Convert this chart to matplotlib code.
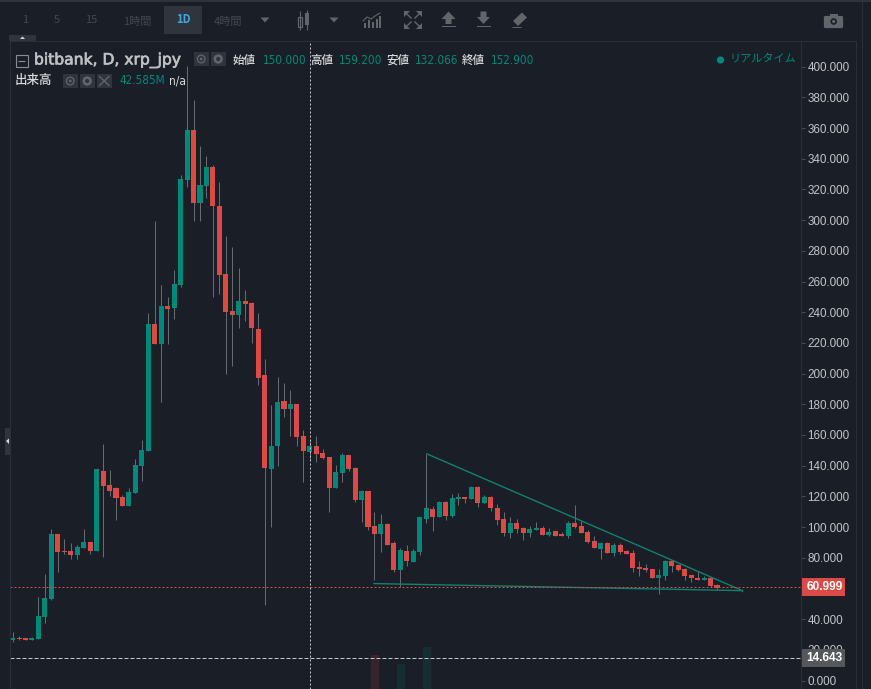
import matplotlib
matplotlib.use("Agg")
import matplotlib.pyplot as plt
import matplotlib.patheffects as pe
from matplotlib.patches import Rectangle, Polygon, Circle, FancyBboxPatch

# ---- data -------------------------------------------------------------
opens = [26.1,28.0,28.0,26.1,27.4,41.7,53.4,95.8,84.7,84.7,82.1,86.6,90.6,84.7,136.8,127.7,125.7,119.9,114.0,122.5,
         140.1,149.8,232.6,219.6,244.3,243.0,258.0,326.4,359.0,311.4,322.5,334.9,309.5,265.2,241.1,238.4,247.6,246.3,229.3,199.4,
         138.1,152.5,182.4,177.2,180.5,159.6,149.2,152.5,148.5,145.9,125.7,135.5,147.2,138.8,117.9,123.8,101.0,95.8,102.3,89.3,
         72.3,84.7,77.5,84.0,105.5,112.1,106.8,116.6,107.5,118.6,119.9,118.6,126.4,116.0,119.9,112.7,105.5,96.4,102.9,99.7,
         96.4,98.4,99.7,95.1,97.7,95.8,94.5,102.9,101.0,97.1,91.2,86.0,89.3,83.4,88.0,84.7,83.4,74.3,73.6,73.0,
         67.1,68.4,78.2,75.6,73.0,69.1,67.1,65.8,67.1,62.5]
highs = [31.9,29.3,28.0,28.7,54.7,69.7,99.0,95.8,92.5,89.9,88.6,99.0,90.6,138.8,154.4,137.5,126.4,121.2,125.7,144.6,
         157.0,239.8,299.7,258.0,250.2,267.8,329.7,400.7,378.5,348.6,342.0,336.2,325.1,289.9,282.8,269.1,254.7,246.9,239.8,209.8,
         179.8,198.1,194.1,189.6,180.5,163.5,157.0,159.6,151.1,145.9,140.7,148.5,147.2,139.4,124.4,123.8,109.5,108.8,102.9,91.2,
         86.6,88.6,86.0,106.8,147.9,114.0,117.3,117.3,121.8,122.5,119.9,127.0,127.0,121.2,120.5,115.3,109.5,106.8,105.5,100.3,
         101.0,103.6,101.0,99.7,97.7,97.1,104.2,114.7,104.2,98.4,94.5,90.6,90.6,89.3,89.3,85.3,85.3,78.2,76.2,73.0,
         73.0,78.8,78.8,76.2,73.6,69.1,71.7,68.4,67.1,63.2]
lows = [25.4,26.7,26.1,26.1,27.4,37.8,52.8,71.0,82.7,79.5,79.5,86.6,82.7,84.7,80.8,120.5,104.9,114.0,114.0,122.5,
        130.3,149.8,219.6,181.8,219.6,235.8,256.7,321.8,299.7,299.7,314.7,250.2,252.1,200.0,205.2,230.0,234.5,220.2,192.8,49.5,
        100.3,140.1,172.0,159.6,153.1,129.6,144.0,142.7,144.6,109.5,125.7,129.6,136.8,116.6,103.6,98.4,65.8,84.0,88.0,71.0,
        61.2,74.9,77.5,82.1,102.9,97.7,106.8,104.9,106.8,114.7,116.0,118.6,113.4,116.0,110.8,101.6,94.5,93.2,96.4,91.9,
        93.8,98.4,95.1,94.5,94.5,94.5,93.2,99.7,96.4,89.9,86.6,79.5,83.4,81.4,82.7,82.7,71.0,67.8,71.0,66.5,
        56.7,65.8,71.0,71.7,65.8,64.5,65.8,65.8,61.2,59.3]
closes = [28.0,27.4,26.1,28.0,42.3,54.1,95.8,84.0,84.0,82.1,87.3,90.6,84.7,138.1,127.0,123.8,119.2,114.0,123.1,140.7,
          150.5,232.6,219.6,244.3,242.4,258.6,327.1,359.0,311.4,323.1,334.9,309.5,264.5,240.4,238.4,247.6,245.6,230.0,197.4,138.8,
          153.1,181.8,177.2,180.5,159.0,149.8,152.5,147.9,145.3,125.7,136.2,147.2,138.1,117.9,123.8,100.3,95.8,102.3,88.6,72.3,
          85.3,78.2,84.7,106.8,112.7,106.8,116.6,107.5,119.2,119.9,118.6,126.4,116.0,119.9,112.7,104.9,96.4,102.9,99.0,96.4,
          99.0,99.7,95.1,97.1,94.5,94.5,102.9,100.3,96.4,90.6,86.6,89.3,83.4,88.0,84.0,82.7,73.6,73.0,72.3,67.1,
          69.1,78.2,74.9,72.3,68.4,66.5,65.8,67.1,61.9,60.0]
volume_days = [56, 60, 64]
volume_up = [False, True, True]
volume_vals = [34.0, 25.0, 42.0]
trend_upper_x = [64, 112.8]
trend_upper_y = [147.9, 58.8]
trend_lower_x = [55.8, 112.8]
trend_lower_y = [63.2, 58.6]
crosshair_day = 46
last_price = 60.999
cross_price = 14.643
yticks = list(range(0, 401, 20))

# ---- style ------------------------------------------------------------
BG = "#1a1e27"
FRAME = "#2b2f38"
GREEN = "#00897b"
RED = "#dc4a45"
WICK = "#686b70"
TXT = "#c2c4c7"
HEAD = "#d8d9da"
ICON = "#62656a"
DIM = "#45484f"
BOX = "#30343c"
CJK = ["Noto Sans CJK JP", "DejaVu Sans"]
W, H = 871, 689
PX = 72 / 100
XLIM = (-0.40, 122.0)

fig = plt.figure(figsize=(8.71, 6.89), dpi=100, facecolor=BG)
rect = [10 / W, 0, 791 / W, 648 / H]
ax = fig.add_axes(rect, zorder=2)
ax.patch.set_visible(False)
vol = fig.add_axes(rect, zorder=1, facecolor=BG)
vol.set_xlim(*XLIM)
vol.set_ylim(0, 648)
vol.axis("off")
for d, up, v in zip(volume_days, volume_up, volume_vals):
    c = GREEN if up else RED
    vol.bar(d, v, width=1.05, color=c, alpha=0.14, edgecolor=c, linewidth=0.6)

ax.set_xlim(*XLIM)
ax.set_ylim(-5.5, 416.7)
ax.set_xticks([])
ax.yaxis.tick_right()
ax.set_yticks(yticks)
# the 60.000 label sits under the price box for the last price
ax.set_yticklabels(["" if t == 60 else f"{t:.3f}" for t in yticks],
                   family="Liberation Sans", fontsize=8.4, color=TXT)
ax.tick_params(axis="y", length=3, width=PX, color="#4a4d55", pad=1.8)
for s in ax.spines.values():
    s.set_visible(False)

days = list(range(len(opens)))
ax.vlines(days, lows, highs, color=WICK, linewidth=PX, zorder=2)
colors = [GREEN if c >= o else RED for o, c in zip(opens, closes)]
ax.bar(days, [abs(c - o) for o, c in zip(opens, closes)],
       bottom=[min(o, c) for o, c in zip(opens, closes)],
       width=0.78, color=colors, linewidth=0, zorder=3)

ax.plot(trend_upper_x, trend_upper_y, color="#14806f", lw=1.0, zorder=4, solid_capstyle="butt")
ax.plot(trend_lower_x, trend_lower_y, color="#14806f", lw=1.0, zorder=4, solid_capstyle="butt")
ax.plot([112.8, 112.8], [trend_lower_y[1], trend_upper_y[1]], color="#14806f", lw=1.0, zorder=4)

ax.axhline(last_price, color=RED, lw=PX, dashes=(2, 2), zorder=5)
ax.axhline(cross_price, color="#c4c6c9", lw=PX, dashes=(4, 2), zorder=5)
ax.axvline(crosshair_day, color="#c4c6c9", lw=PX, dashes=(2, 2), zorder=5)

ytr = ax.get_yaxis_transform()
for price, col in [(last_price, RED), (cross_price, "#55575b")]:
    ax.add_patch(Rectangle((1.0, price - 5.6), 44 / 791, 11.2, transform=ytr, color=col,
                           clip_on=False, zorder=6, linewidth=0))
    ax.text(1.0 + 5.5 / 791, price - 0.2, f"{price:.3f}", transform=ytr, color="white",
            family="Liberation Sans", fontsize=8.6, fontweight="bold", va="center", ha="left",
            clip_on=False, zorder=7)

# ---- chrome in pixel coordinates ---------------------------------------
ui = fig.add_axes([0, 0, 1, 1], zorder=3)
ui.patch.set_visible(False)
ui.set_xlim(0, W)
ui.set_ylim(H, 0)
ui.axis("off")

def line(xs, ys, c=FRAME, lw=PX):
    ui.plot(xs, ys, color=c, lw=lw, solid_capstyle="butt")

line([10, 856], [40.5, 40.5])
line([10, 10], [40.5, 689])
line([800.5, 800.5], [40.5, 689])
line([855.5, 855.5], [40.5, 689])
line([861.5, 861.5], [0, 689])
line([0, W], [0.5, 0.5], "#34373e", 1.2)

ui.add_patch(Rectangle((9, 35), 27, 5.5, color=BOX, lw=0))
ui.add_patch(Polygon([[20, 39], [25, 39], [22.5, 36.5]], color="#d8d8d8", lw=0))
ui.add_patch(Rectangle((5, 428), 4.5, 27, color=BOX, lw=0))
ui.add_patch(Polygon([[9, 438.5], [9, 444], [6, 441]], color="#d8d8d8", lw=0))

def txt(x, y, s, c=TXT, size=8.0, ha="left", family=None, **kw):
    return ui.text(x, y, s, color=c, fontsize=size, ha=ha, va="center", family=family or CJK, **kw)

# time frame buttons
ui.add_patch(Rectangle((164, 6), 38, 28, color=BOX, lw=0))
for x, s in [(25, "1"), (57, "5"), (91, "15"), (137, "1時間"), (228, "4時間")]:
    txt(x, 20 if len(s) < 3 else 22, s, DIM, 8.0, ha="center")
txt(183, 19.5, "1D", "#3fa9dc", 8.0, ha="center", fontweight="bold")

def tri(cx, cy, c=ICON):
    ui.add_patch(Polygon([[cx - 4.5, cy - 2.5], [cx + 4.5, cy - 2.5], [cx, cy + 2.5]], color=c, lw=0))

tri(265, 20)
tri(334, 20)
# candle icon
ui.add_patch(Rectangle((297.5, 17), 4, 10, fill=False, ec=ICON, lw=0.9))
line([299.5, 299.5], [11, 30], ICON, 0.8)
ui.add_patch(Rectangle((304.5, 13), 4.5, 12, color=ICON, lw=0))
line([306.7, 306.7], [10, 30], ICON, 0.8)
# indicator icon
for x, h in zip([363.5, 367.5, 371.5, 375.5, 379], [5, 8, 6, 9, 12]):
    ui.add_patch(Rectangle((x, 28 - h), 2.4, h, color=ICON, lw=0))
ui.plot([363, 367, 371, 375, 380], [21, 17, 19, 16, 13], color=ICON, lw=0.8)
# fullscreen icon
for x0, y0, dx, dy in [(404, 11, 1, 1), (422, 11, -1, 1), (404, 29, 1, -1), (422, 29, -1, -1)]:
    ui.add_patch(Polygon([[x0, y0], [x0 + 6 * dx, y0], [x0, y0 + 6 * dy]], color=ICON, lw=0))
    ui.plot([x0 + 2 * dx, x0 + 7 * dx], [y0 + 2 * dy, y0 + 7 * dy], color=ICON, lw=1.0)
# upload
ui.add_patch(Polygon([[441.5, 19], [448.5, 11.5], [455.5, 19], [451.5, 19], [451.5, 24], [445.5, 24], [445.5, 19]], color=ICON, lw=0))
ui.add_patch(Rectangle((441.5, 25.8), 14, 1.6, color=ICON, lw=0))
# download
ui.add_patch(Polygon([[477, 17], [480.5, 17], [480.5, 11.5], [486.5, 11.5], [486.5, 17], [490, 17], [483.5, 24]], color=ICON, lw=0))
ui.add_patch(Rectangle((476.5, 25.8), 14, 1.6, color=ICON, lw=0))
# eraser
ui.add_patch(Polygon([[513, 21], [522, 12.5], [527, 17.5], [518, 26]], color=ICON, lw=0))
line([512, 521], [27, 27], ICON, 0.7)
# camera
ui.add_patch(FancyBboxPatch((824.5, 16.5), 18, 11, boxstyle="round,pad=0.6,rounding_size=1.5", color=ICON, lw=0))
ui.add_patch(Rectangle((829.5, 13.5), 8, 4, color=ICON, lw=0))
ui.add_patch(Circle((833.7, 21.5), 3.3, fc=BG, ec="none"))
ui.add_patch(Circle((833.7, 21.5), 1.6, fc=ICON, ec="none"))

# header
ui.add_patch(Rectangle((15.5, 54.5), 12, 12, fill=False, ec="#8a8c90", lw=0.8))
line([18, 25], [60.5, 60.5], "#8a8c90", 0.8)
t = txt(34, 60.5, "bitbank, D, xrp_jpy", "#bfc0c3", 11.2, family="DejaVu Sans")
t.set_path_effects([pe.withStroke(linewidth=0.5, foreground="#bfc0c3")])

def eye(x, y):
    ui.add_patch(Rectangle((x, y), 14.5, 14, color=BOX, lw=0))
    ui.add_patch(Circle((x + 7.2, y + 7), 3.8, fc="none", ec=ICON, lw=0.9))
    ui.add_patch(Circle((x + 7.2, y + 7), 1.4, fc=ICON, ec="none"))

def gear(x, y):
    ui.add_patch(Rectangle((x, y), 14.5, 14, color=BOX, lw=0))
    ui.add_patch(Circle((x + 7.2, y + 7), 3.4, fc="none", ec=ICON, lw=1.8))

def cross(x, y):
    ui.add_patch(Rectangle((x, y), 14.5, 14, color=BOX, lw=0))
    ui.plot([x + 2.5, x + 12], [y + 2.5, y + 11.5], color=ICON, lw=1.0)
    ui.plot([x + 12, x + 2.5], [y + 2.5, y + 11.5], color=ICON, lw=1.0)

eye(194, 52); gear(211, 52)
eye(63, 74); gear(80, 74); cross(97, 74)
COND = dict(family="DejaVu Sans", stretch="condensed")
for x, s in [(233, "始値"), (310, "高値"), (386, "安値"), (462, "終値")]:
    txt(x, 60, s, HEAD, 8.3, fontweight="medium")
for x, s in [(263, "150.000"), (339, "159.200"), (415, "132.066"), (491, "152.900")]:
    ui.text(x, 60, s, color=GREEN, fontsize=8.4, va="center", ha="left", **COND)
txt(15, 80, "出来高", HEAD, 9.0, fontweight="medium")
ui.text(119, 81, "42.585M", color=GREEN, fontsize=8.4, va="center", ha="left", **COND)
ui.text(169, 81, "n/a", color=HEAD, fontsize=8.6, va="center", ha="left", **COND)
ui.add_patch(Circle((720.5, 60), 3.6, fc=GREEN, ec="none"))
txt(730, 59, "リアルタイム", GREEN, 8.0)

fig.savefig("out.png", dpi=100, facecolor=BG)
